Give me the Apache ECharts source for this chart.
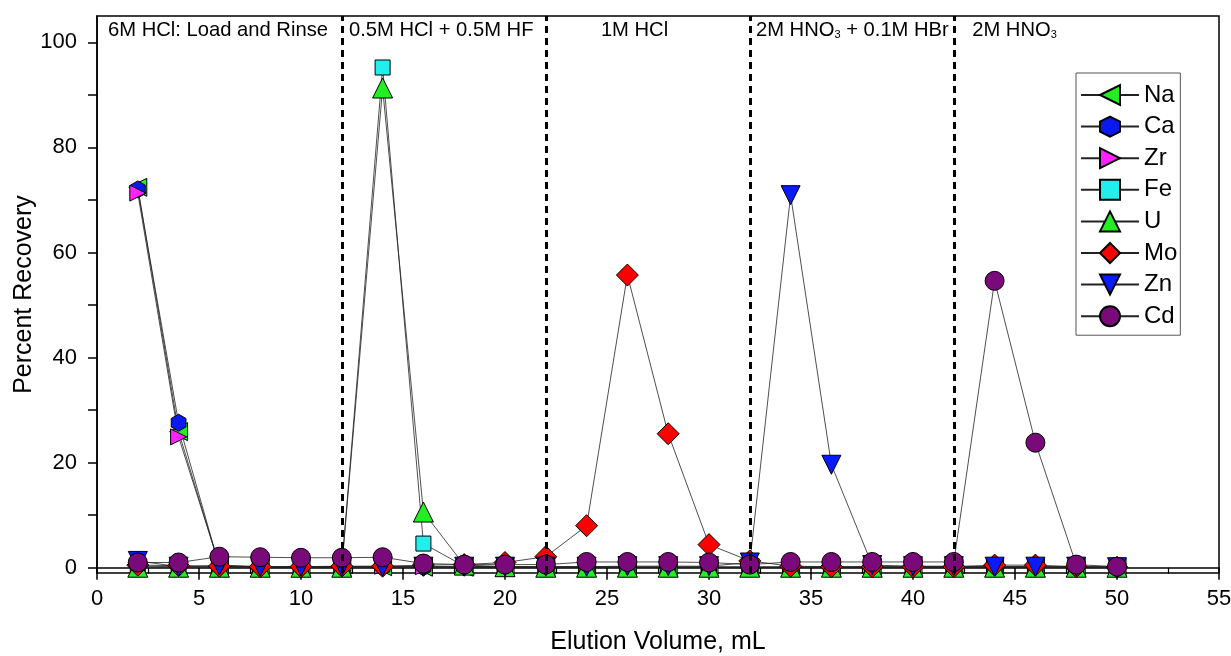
<!DOCTYPE html>
<html>
<head>
<meta charset="utf-8">
<script src="https://cdn.jsdelivr.net/npm/echarts@6/dist/echarts.min.js"></script>
<style>
  html, body { margin: 0; padding: 0; background: #fff; }
  #main { width: 1231px; height: 656px; }
</style>
</head>
<body>
<div id="main"></div>
<script>
// elution volume (mL)
var volume = [2, 4, 6, 8, 10, 12, 14, 16, 18, 20, 22, 24, 26, 28, 30, 32, 34, 36, 38, 40, 42, 44, 46, 48, 50];

// percent recovery per element
var na = [72.4, 25.9, 0.3, 0.1, 0.1, 0.1, 0.2, 0.1, 0.1, 0.1, 0.1, 0.1, 0.1, 0.1, 0.1, 0.1, 0.1, 0.1, 0.1, 0.1, 0.1, 0.1, 0.1, 0.1, 0.1];
var ca = [72.0, 27.6, 0.2, 0.1, 0.1, 0.1, 0.1, 0.1, 0.1, 0.1, 0.1, 0.2, 0.1, 0.1, 0.1, 0.1, 0.1, 0.1, 0.1, 0.1, 0.1, 0.1, 0.1, 0.1, 0.1];
var zr = [71.3, 24.9, 0.5, 0.2, 0.1, 0.1, 0.3, 0.2, 0.2, 0.1, 0.1, 0.1, 0.1, 0.1, 0.1, 0.1, 0.1, 0.1, 0.1, 0.1, 0.1, 0.2, 0.2, 0.1, 0.1];
var fe = [0.3, 0.2, 0.2, 0.1, 0.1, 0.2, 95.2, 4.6, 0.3, 0.2, 0.1, 0.1, 0.1, 0.1, 0.1, 0.1, 0.1, 0.1, 0.1, 0.1, 0.1, 0.1, 0.1, 0.1, 0.1];
var u  = [0.1, 0.1, 0.1, 0.1, 0.1, 0.1, 91.3, 10.6, 0.5, 0.2, 0.1, 0.1, 0.1, 0.1, 0.1, 0.1, 0.1, 0.1, 0.1, 0.1, 0.1, 0.1, 0.1, 0.1, 0.1];
var mo = [0.5, 0.4, 0.3, 0.2, 0.2, 0.3, 0.3, 0.5, 0.6, 1.0, 2.1, 8.0, 55.7, 25.5, 4.4, 1.3, 0.3, 0.2, 0.2, 0.2, 0.2, 0.5, 0.5, 0.2, 0.1];
var zn = [1.3, 0.2, 0.4, 0.2, 0.2, 0.2, 0.2, 0.2, 0.2, 0.2, 0.2, 0.2, 0.3, 0.3, 0.3, 1.0, 70.9, 19.6, 0.5, 0.3, 0.3, 0.2, 0.2, 0.2, 0.1];
var cd = [1.0, 1.0, 2.1, 2.0, 1.9, 1.9, 2.0, 0.8, 0.6, 0.6, 0.6, 1.1, 1.1, 1.1, 1.0, 0.6, 1.1, 1.1, 1.1, 1.1, 1.1, 54.6, 23.8, 0.6, 0.2];

// eluent changes and stage names
var cuts = [12, 22, 32, 42];
var stageText = ['6M HCl: Load and Rinse', '0.5M HCl + 0.5M HF', '1M HCl', '2M HNO{s|3} + 0.1M HBr', '2M HNO{s|3}'];
var stageStart = [0.54, 12.35, 24.7, 32.3, 42.9];

var font = 'Liberation Sans, Arial, sans-serif';
var hexagon = 'path://M0,-1L0.866,-0.5L0.866,0.5L0,1L-0.866,0.5L-0.866,-0.5Z';

function pairs(vals) {
    var out = [];
    for (var i = 0; i < volume.length; i++) {
        out.push([volume[i], vals[i]]);
    }
    return out;
}

function makeSeries(name, vals, color, symbol, size, rotate) {
    return {
        name: name,
        type: 'line',
        data: pairs(vals),
        symbol: symbol,
        symbolSize: size,
        symbolRotate: rotate || 0,
        symbolKeepAspect: true,
        showAllSymbol: true,
        itemStyle: { color: color, borderColor: '#000', borderWidth: 1 },
        lineStyle: { color: '#222', width: 0.8 },
        emphasis: { disabled: true }
    };
}

var chart = echarts.init(document.getElementById('main'));

var series = [
    makeSeries('Na', na, '#22ee22', 'triangle', 18, 90),
    makeSeries('Ca', ca, '#0a1aee', hexagon, 17),
    makeSeries('Zr', zr, '#ff22ff', 'triangle', 16, -90),
    makeSeries('Fe', fe, '#22eeee', 'rect', 15),
    makeSeries('U', u, '#22ee22', 'triangle', 20),
    makeSeries('Mo', mo, '#ff0000', 'diamond', 22),
    makeSeries('Zn', zn, '#0a1aff', 'triangle', 19, 180),
    makeSeries('Cd', cd, '#7a0a7a', 'circle', 19)
];

series[0].markLine = {
    silent: true,
    symbol: 'none',
    label: { show: false },
    lineStyle: { color: '#000', width: 3, type: [7, 5] },
    data: cuts.map(function (c) { return { xAxis: c }; })
};

var option = {
    animation: false,
    backgroundColor: '#fff',
    grid: {
        left: 97, right: 12, top: 16, bottom: 83,
        outerBoundsMode: 'none',
        containLabel: false,
        show: true, borderColor: '#000', borderWidth: 1.5
    },
    legend: {
        orient: 'vertical',
        left: 1076, top: 73,
        itemWidth: 58, itemHeight: 25, itemGap: 7.6,
        padding: [10, 3, 7, 4],
        borderColor: '#555', borderWidth: 1,
        textStyle: { fontFamily: font, fontSize: 24, color: '#000' },
        data: ['Na', 'Ca', 'Zr', 'Fe', 'U', 'Mo', 'Zn', 'Cd']
    },
    xAxis: {
        type: 'value',
        min: 0, max: 55, interval: 5,
        name: 'Elution Volume, mL',
        nameLocation: 'middle',
        nameGap: 57,
        nameMoveOverlap: false,
        nameTextStyle: { fontFamily: font, fontSize: 25, color: '#000' },
        axisLine: { lineStyle: { color: '#000', width: 1.5 } },
        axisTick: { length: 12, lineStyle: { color: '#000', width: 1.5 } },
        minorTick: { show: true, splitNumber: 2, length: 6, lineStyle: { color: '#000', width: 1.2 } },
        axisLabel: { fontFamily: font, fontSize: 22, color: '#000', margin: 15 },
        splitLine: { show: false }
    },
    yAxis: {
        type: 'value',
        min: -1, max: 105,
        name: 'Percent Recovery',
        nameLocation: 'middle',
        nameGap: 60,
        nameMoveOverlap: false,
        nameTextStyle: { fontFamily: font, fontSize: 25, color: '#000' },
        axisLine: { show: true, lineStyle: { color: '#000', width: 1.5 } },
        axisTick: { show: true, length: 9, customValues: [0, 10, 20, 30, 40, 50, 60, 70, 80, 90, 100], lineStyle: { color: '#000', width: 1.5 } },
        axisLabel: { fontFamily: font, fontSize: 22, color: '#000', margin: 20, customValues: [0, 20, 40, 60, 80, 100] },
        splitLine: { show: false }
    },
    series: series
};

chart.setOption(option);

// stage labels across the top, placed from their data positions
var gfx = [];
for (var i = 0; i < stageText.length; i++) {
    var px = chart.convertToPixel({ gridIndex: 0 }, [stageStart[i], 0])[0];
    gfx.push({
        type: 'text',
        left: px,
        top: 20,
        style: {
            text: stageText[i],
            fontFamily: font,
            fontSize: 20.2,
            fill: '#000',
            rich: {
                s: { fontFamily: font, fontSize: 11, verticalAlign: 'bottom', lineHeight: 13 }
            }
        }
    });
}
chart.setOption({ graphic: gfx });

window.addEventListener('resize', function () {
    chart.resize();
});
</script>
</body>
</html>
